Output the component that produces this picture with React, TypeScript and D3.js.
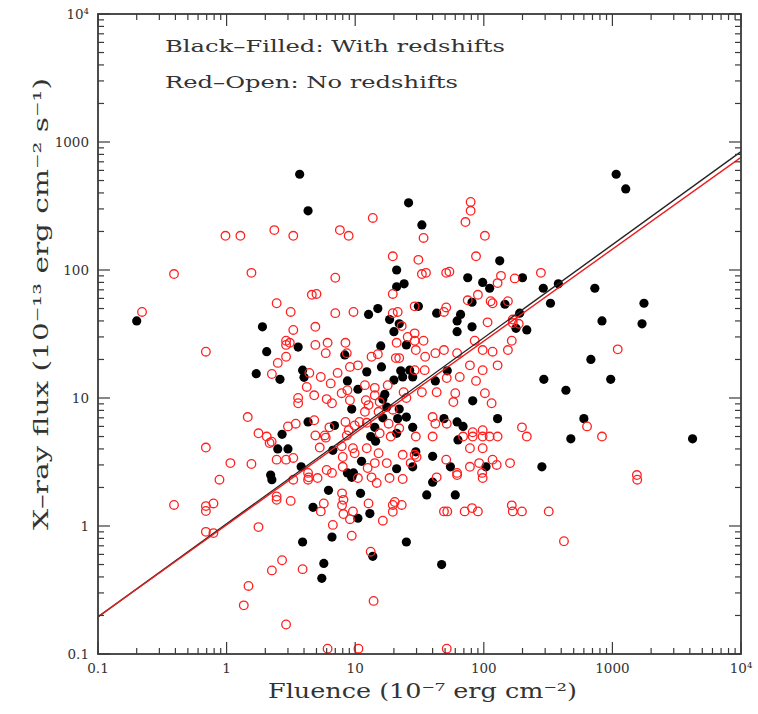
import React from "react";
import * as d3 from "d3";

// Filled black: with redshifts  [fluence (1e-7 erg cm^-2), X-ray flux (1e-13 erg cm^-2 s^-1)]
const blackFluence = [0.2, 3.7, 4.3, 1.9, 26, 33, 133, 21, 21, 24, 75, 98, 111, 81, 146, 31, 12.7, 15, 18.5, 43, 66, 62, 81, 22,
  1070, 1270, 200, 290, 380, 730, 330, 1760, 830, 1700, 190, 216, 178, 680, 293, 435, 970, 600, 475, 4200, 283,
  2.05, 3.6, 1.7, 2.6, 3.9, 4.0, 4.3, 2.7, 2.5, 3.0, 3.8, 2.2, 2.25, 3.9, 6.2, 11, 36, 60, 4.7, 10.5, 13, 6.6, 25, 13.7, 5.7, 5.5, 47,
  62, 20, 15.8, 25, 8.3, 8.7, 12.3, 16, 22.6, 26.5, 23.4, 28, 20, 42, 52, 10.5, 17, 16.4, 82, 9.4, 17.6, 22, 6.9, 16.4, 21.4, 25, 28,
  49, 62, 69, 128, 14.2, 13.2, 14.4, 21, 63, 6.7, 29.6, 40, 11.2, 21, 28, 55, 104, 8.7, 9.7, 9.4, 40];
const blackFlux = [40, 560, 290, 36, 335, 225, 118, 100, 74, 78, 87, 80, 72, 56, 54, 52, 45, 50, 41, 46, 45, 40, 36, 38,
  560, 430, 87, 72, 78, 72, 55, 55, 40, 38, 46, 34, 35, 20, 14, 11.5, 14, 6.9, 4.8, 4.8, 2.9,
  23, 25, 15.5, 14, 16.5, 14.5, 6.5, 5.2, 4.0, 4.0, 2.9, 2.5, 2.3, 0.75, 1.9, 1.8, 1.75, 1.75, 1.4, 1.15, 1.25, 0.82, 0.75, 0.58, 0.51, 0.39, 0.5,
  33, 33, 25.5, 26, 21.7, 13.6, 16, 17.5, 16.3, 16.5, 14.6, 14.6, 13.8, 13.6, 16.3, 11.7, 10.7, 9.8, 9.5, 8.2, 8.5, 8.2, 6.1, 7, 6.9, 7.1, 5.9,
  6.9, 6.5, 6.0, 6.9, 5.9, 5.0, 4.6, 5.3, 4.7, 3.9, 3.8, 3.5, 3.2, 2.8, 2.9, 2.9, 2.9, 2.6, 2.6, 2.4, 2.2];

// Open red: no redshifts
const redFluence = [0.98, 1.28, 2.35, 3.3, 0.39, 1.56, 2.45, 3.15, 0.22, 3.3,
  79, 79, 72, 13.7, 7.6, 8.9, 34, 102, 19.6, 31, 87, 7, 33, 35.5, 51, 54, 136, 128, 174, 4.6, 5.0, 19.6, 90, 75, 113, 117, 154,
  7, 9.7, 29, 51, 49, 19.6, 21.4, 107, 4.9, 23, 168,
  278, 168, 187,
  165, 1100, 198, 216, 635, 830, 160, 1550, 1560,
  165, 168, 198, 320, 420,
  7.9, 8.1, 5.7, 5.4, 7.9, 9.6, 8.1, 9.1, 12.7, 16.4, 19.6, 20.3, 23, 19.6, 6.7, 9.4, 13.2, 3.9, 13.9, 49, 52, 71, 81, 90, 6.1, 10.6, 51.5,
  0.39, 0.69, 0.69, 0.79, 0.69, 0.79, 2.45, 2.45, 3.15, 1.77, 2.7, 2.25, 1.48, 1.36, 2.9,
  2.9, 3.1, 2.9, 2.9, 2.5, 2.25, 0.69, 4.2, 3.6, 3.6, 1.46, 3.0, 3.45, 1.77, 2.05, 2.16, 2.24, 2.45, 2.9, 3.3, 0.69, 1.07, 1.56, 0.88, 3.3, 4.3, 4.3,
  29, 25.6, 34, 29, 85, 4.9, 6.1, 5.9, 8.4, 8.6, 13.4, 15, 21, 20.7, 22, 29.6, 42, 49, 62, 35, 98, 117, 10.5, 7.3, 6.45, 11.9, 8.7, 7.85,
  6.0, 4.8, 9.1, 12.1, 12.7, 15.5, 15.2, 19.6, 23.8, 33, 43, 51.5, 60, 58, 65, 78, 87, 102, 115, 4.8, 4.9, 5.8, 5.9, 8.6, 8.9, 9.9, 10.8,
  12.3, 8.4, 18.2, 15.5, 18.9, 22, 29.6, 40, 40, 42, 51.5, 69, 82, 82, 98, 98, 111, 128, 78, 98, 117, 92, 78, 98, 126, 62, 51, 30, 27,
  23.4, 17.6, 14.2, 15.2, 12.3, 12.5, 9.9, 8.0, 8.0, 6.6, 6.0, 4.35, 5.1, 10.5, 13.4, 14.7, 18.5, 23.4, 29, 43, 62, 97, 9.6, 11.9, 14.2,
  17.9, 14.2, 9.1, 4.4, 5.4, 6.6, 29, 34.7, 128, 98, 154, 25, 6.3, 7.85, 5.3];
const redFlux = [185, 185, 205, 185, 93, 95, 55, 47, 47, 34,
  340, 290, 237, 255, 205, 185, 178, 185, 128, 120, 128, 87, 93, 95, 95, 97, 90, 79, 86, 64, 65, 65, 64, 58, 57, 55, 57,
  46, 47, 52, 51, 47, 46, 47, 39, 36, 36.5, 41,
  95, 38.5, 38,
  28, 24, 5.9, 5, 6, 5, 3.1, 2.5, 2.3,
  1.45, 1.3, 1.3, 1.3, 0.76,
  1.8, 1.6, 1.5, 1.3, 1.45, 1.3, 1.24, 1.13, 1.5, 1.1, 1.46, 1.54, 1.46, 1.29, 1.02, 0.84, 0.63, 0.46, 0.26, 1.3, 1.3, 1.3, 1.38, 1.3, 0.11, 0.11, 0.11,
  1.46, 1.43, 1.31, 1.5, 0.9, 0.88, 1.7, 1.6, 1.57, 0.98, 0.54, 0.45, 0.34, 0.24, 0.17,
  28, 27, 26, 21, 18.8, 15.4, 23, 12.2, 10, 9.1, 7.1, 6.0, 6.3, 5.3, 5.0, 4.45, 4.55, 3.3, 3.3, 3.4, 4.1, 3.1, 3.05, 2.3, 2.3, 2.6, 2.3,
  32, 30, 28, 28, 28, 26, 27, 22.4, 27, 22.4, 21, 22, 27, 20.5, 20.5, 23.7, 22.4, 23.7, 22.4, 21, 23.7, 23, 18, 15.7, 13, 12.6, 11.5, 10.9,
  9.8, 10.5, 9.6, 9.6, 8.8, 9.3, 7.8, 8.1, 11.1, 11.1, 11.1, 14.3, 10.9, 9.3, 14.6, 18, 13.6, 10.9, 9.1, 6.7, 5.1, 5.1, 4.9, 5.1, 5.6, 6.1, 6.5,
  6.4, 6.5, 6.3, 5.3, 5.0, 5.8, 5.0, 5.0, 7.1, 6.3, 6.3, 5.0, 5.4, 5.0, 5.6, 5.0, 5.0, 5.0, 4.05, 4.05, 3.3, 3.1, 2.9, 2.37, 3.0, 2.6, 3.3, 3.46, 3.1,
  3.6, 3.1, 3.1, 3.7, 4.05, 2.84, 3.7, 3.46, 2.9, 2.6, 2.74, 2.4, 2.37, 2.37, 2.4, 2.17, 2.37, 2.33, 3.6, 2.4, 2.5, 2.6, 4.05, 7.8, 10.5,
  12.6, 12, 17.5, 15.7, 14.6, 9.1, 16.5, 16.5, 18, 16.5, 23.7, 10, 5.9, 4.2, 4.1];

// Power-law fits: flux = norm * fluence^slope
const fitBlack = { norm: 1.04, slope: 0.727 };
const fitRed = { norm: 1.02, slope: 0.718 };

const majorTicks = [0.1, 1, 10, 100, 1000, 10000];
const majorLabels = ["0.1", "1", "10", "100", "1000", "10\u2074"];

const legendLines = ["Black\u2013Filled: With redshifts", "Red\u2013Open: No redshifts"];
const xTitle = "Fluence (10\u207B\u2077 erg cm\u207B\u00B2)";
const yTitle = "X\u2013ray flux (10\u207B\u00B9\u00B3 erg cm\u207B\u00B2 s\u207B\u00B9)";

export default function App() {
  const W = 758, H = 714;
  const L = 98, R = 741, T = 14, B = 654;
  const x = d3.scaleLog().domain([0.1, 1e4]).range([L, R]);
  const y = d3.scaleLog().domain([0.1, 1e4]).range([B, T]);
  const allTicks = x.ticks();
  const isMajor = (v: number) => Math.abs(Math.log10(v) - Math.round(Math.log10(v))) < 1e-6;
  const axisColor = "#3a3a3a";
  const font = "'DejaVu Serif', serif";
  const textColor = "#333";

  const fitPath = (f: { norm: number; slope: number }) => {
    const xs = [0.1, 1e4];
    return d3.line<number>().x((d) => x(d)).y((d) => y(f.norm * Math.pow(d, f.slope)))(xs) || "";
  };

  const tickEls: React.ReactElement[] = [];
  allTicks.forEach((v, i) => {
    const len = isMajor(v) ? 12 : 6;
    const px = x(v);
    const py = y(v);
    tickEls.push(<line key={"b" + i} x1={px} x2={px} y1={B} y2={B - len} />);
    tickEls.push(<line key={"t" + i} x1={px} x2={px} y1={T} y2={T + len} />);
    tickEls.push(<line key={"l" + i} x1={L} x2={L + len} y1={py} y2={py} />);
    tickEls.push(<line key={"r" + i} x1={R} x2={R - len} y1={py} y2={py} />);
  });

  return (
    <svg width={W} height={H} style={{ position: "absolute", left: 0, top: 0, background: "#fff" }}>
      <rect x={0} y={0} width={W} height={H} fill="#fff" />
      <defs>
        <clipPath id="plotClip">
          <rect x={L} y={T} width={R - L} height={B - T} />
        </clipPath>
      </defs>
      <g clipPath="url(#plotClip)">
        {blackFluence.map((v, i) => (
          <circle key={"k" + i} cx={x(v)} cy={y(blackFlux[i])} r={4.6} fill="#000" />
        ))}
        {redFluence.map((v, i) => (
          <circle key={"o" + i} cx={x(v)} cy={y(redFlux[i])} r={4.3} fill="none" stroke="#ff2020" strokeWidth={1.3} />
        ))}
        <path d={fitPath(fitBlack)} stroke="#222" strokeWidth={1.4} fill="none" />
        <path d={fitPath(fitRed)} stroke="#ee1c1c" strokeWidth={1.4} fill="none" />
      </g>
      <g stroke={axisColor} strokeWidth={1.2}>{tickEls}</g>
      <rect x={L} y={T} width={R - L} height={B - T} fill="none" stroke={axisColor} strokeWidth={1.8} />
      <g fontFamily={font} fontSize={13.5} fill={textColor}>
        {majorTicks.map((v, i) => (
          <text key={"xl" + i} x={x(v)} y={B + 19} textAnchor="middle">{majorLabels[i]}</text>
        ))}
        {majorTicks.map((v, i) => (
          <text key={"yl" + i} x={L - 9} y={y(v) + 5} textAnchor="end">{majorLabels[i]}</text>
        ))}
      </g>
      <g fontFamily={font} fill={textColor}>
        <text x={165} y={52} fontSize={17} textLength={340} lengthAdjust="spacingAndGlyphs">{legendLines[0]}</text>
        <text x={165} y={88} fontSize={17} textLength={293} lengthAdjust="spacingAndGlyphs">{legendLines[1]}</text>
        <text x={268} y={698} fontSize={21} textLength={309} lengthAdjust="spacingAndGlyphs">{xTitle}</text>
        <text transform="translate(48,530) rotate(-90)" x={0} y={0} fontSize={21} textLength={452} lengthAdjust="spacingAndGlyphs">{yTitle}</text>
      </g>
    </svg>
  );
}
